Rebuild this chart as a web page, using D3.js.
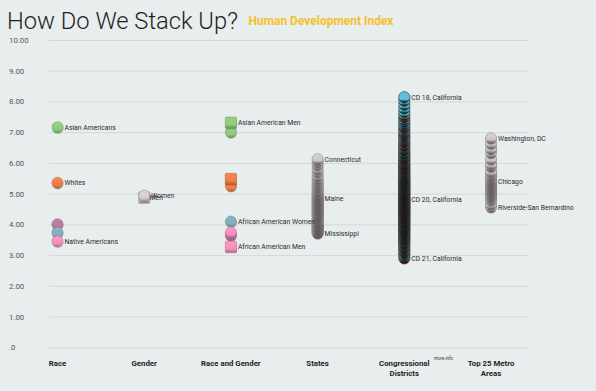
<!DOCTYPE html>
<html><head><meta charset="utf-8">
<script src="https://cdn.jsdelivr.net/npm/d3@7/dist/d3.min.js"></script>
<style>
html,body{margin:0;padding:0;background:#e8eded;}
svg{display:block;}
text{font-family:Roboto,"Noto Sans",sans-serif;}
</style></head>
<body>
<svg id="chart" width="596" height="391"></svg>
<script>
// ---------- DATA ----------
const categories = ["Race", "Gender", "Race and Gender", "States", "Congressional Districts", "Top 25 Metro Areas"];
const yTicks = [0, 1, 2, 3, 4, 5, 6, 7, 8, 9, 10];
const yTickLabels = [".0", "1.00", "2.00", "3.00", "4.00", "5.00", "6.00", "7.00", "8.00", "9.00", "10.00"];

const raceNames  = ["Asian Americans", "Whites", "Latinos", "African Americans", "Native Americans"];
const raceGroups = ["asian", "white", "latino", "african", "native"];
const raceValues = [7.16, 5.35, 4.00, 3.73, 3.45];
const raceLabeled = ["Asian Americans", "Whites", "Native Americans"];

const genderNames  = ["Men", "Women"];
const genderSex    = ["M", "F"];
const genderValues = [4.88, 4.93];

const rgNames  = ["Asian American Women", "White Women", "African American Women", "Latino Women", "Native American Women",
                  "Asian American Men", "White Men", "African American Men"];
const rgGroups = ["asian", "white", "african", "latino", "native", "asian", "white", "native"];
const rgSex    = ["F", "F", "F", "F", "F", "M", "M", "M"];
const rgValues = [7.00, 5.25, 4.09, 3.64, 3.74, 7.31, 5.48, 3.27];
const rgLabeled = ["Asian American Men", "African American Women", "African American Men"];

const stateValues = [6.12, 6.03, 5.93, 5.80, 5.70, 5.58, 5.49, 5.41, 5.33, 5.26,
                     5.19, 5.12, 5.07, 5.01, 4.97, 4.93, 4.88, 4.85, 4.81, 4.77,
                     4.74, 4.70, 4.66, 4.62, 4.59, 4.55, 4.51, 4.48, 4.44, 4.40,
                     4.37, 4.33, 4.30, 4.26, 4.21, 4.17, 4.13, 4.09, 4.05, 4.01,
                     3.98, 3.95, 3.92, 3.89, 3.86, 3.83, 3.80, 3.77, 3.74, 3.71];
const stateLabelNames  = ["Connecticut", "Maine", "Mississippi"];
const stateLabelValues = [6.12, 4.83, 3.71];

const cdValues = [8.14, 8.03, 7.90, 7.78, 7.66, 7.57, 7.49, 7.41, 7.34, 7.27,
                  7.21, 7.14, 7.07, 7.01, 6.94, 6.88, 6.83, 6.77, 6.70, 6.66,
                  6.60, 6.55, 6.49, 6.45, 6.40, 6.34, 6.30, 6.25, 6.21, 6.16,
                  6.12, 6.07, 6.03, 5.98, 5.95, 5.91, 5.87, 5.84, 5.80, 5.77,
                  5.73, 5.70, 5.66, 5.63, 5.60, 5.56, 5.53, 5.50, 5.47, 5.44,
                  5.41, 5.38, 5.35, 5.32, 5.29, 5.27, 5.24, 5.21, 5.18, 5.16,
                  5.13, 5.10, 5.08, 5.05, 5.02, 5.00, 4.97, 4.95, 4.92, 4.89,
                  4.87, 4.84, 4.82, 4.79, 4.77, 4.74, 4.72, 4.69, 4.67, 4.64,
                  4.62, 4.59, 4.57, 4.54, 4.52, 4.49, 4.47, 4.44, 4.41, 4.39,
                  4.36, 4.34, 4.31, 4.28, 4.26, 4.23, 4.20, 4.18, 4.15, 4.12,
                  4.10, 4.07, 4.04, 4.01, 3.98, 3.95, 3.92, 3.89, 3.86, 3.83,
                  3.80, 3.76, 3.73, 3.69, 3.66, 3.62, 3.58, 3.54, 3.50, 3.46,
                  3.41, 3.37, 3.32, 3.27, 3.22, 3.16, 3.10, 3.04, 2.97, 2.90];
const cdParty = ("DDDDDDRDDD" + "DRDDRDDDRD" + "DRDDRDRDDR" + "RDDRDRDDRD" + "DRDRDDRDRD" +
                 "RDRDDRDRDD" + "DRDDRDRDRD" + "RDRDRDDRDR" + "DRDRDRDDRD" + "RDDRDRDRDD" +
                 "DRDRDDRDRD" + "DRDRDDRDRD" + "DRDDRDRDDR").split("");
const cdLabelNames  = ["CD 18, California", "CD 20, California", "CD 21, California"];
const cdLabelValues = [8.14, 4.82, 2.90];

const metroValues = [6.80, 6.63, 6.46, 6.33, 6.12, 5.96, 5.88, 5.72, 5.63, 5.56,
                     5.49, 5.43, 5.38, 5.33, 5.28, 5.22, 5.17, 5.12, 5.07, 5.01,
                     4.95, 4.88, 4.79, 4.66, 4.56];
const metroLabelNames  = ["Washington, DC", "Chicago", "Riverside-San Bernardino"];
const metroLabelValues = [6.80, 5.40, 4.56];

// ---------- STYLE ----------
const groupColor = {asian: "#8ec97c", white: "#f07e48", latino: "#b9789c", african: "#7fb0ba", native: "#f38fbb", gray: "#d3cdcd"};
const partyColor = {D: "#5cc3d8", R: "#d8472d"};

// ---------- CHART ----------
const svg = d3.select("#chart");
const defs = svg.append("defs");
const y = d3.scaleLinear().domain([0, 10]).range([347.3, 40]);
const x = d3.scalePoint().domain(categories).range([57.5, 491]);
const R = 5.6;

let gradN = 0;
function grad(stops) {
  const id = "g" + (gradN++);
  const lg = defs.append("linearGradient").attr("id", id).attr("x1", 0).attr("y1", 0).attr("x2", 0).attr("y2", 1);
  stops.forEach(s => lg.append("stop").attr("offset", s[0]).attr("stop-color", s[1]));
  return "url(#" + id + ")";
}
const soft = c => grad([[0, d3.color(c).brighter(0.15)], [0.7, c], [1, d3.color(c).darker(0.9)]]);
const fillGroup = {};
Object.keys(groupColor).forEach(k => fillGroup[k] = soft(groupColor[k]));
const grayDeep = grad([[0, "#dcd6d6"], [0.62, "#cbc4c4"], [0.88, "#7a7272"], [1, "#4a4343"]]);
const partyFill = {};
Object.keys(partyColor).forEach(k => partyFill[k] = grad(
  [[0, partyColor[k]], [0.7, partyColor[k]], [0.86, d3.color(partyColor[k]).darker(2.6)], [1, "#080808"]]));

// title
const title = svg.append("text").attr("x", 7).attr("y", 29)
  .attr("font-size", 27).attr("font-weight", 300).attr("fill", "#1e1e1e")
  .text("How Do We Stack Up?");
const tw = title.node().getComputedTextLength();
title.attr("font-size", 27 * 231 / tw);
const sub = svg.append("text").attr("x", 248.5).attr("y", 24.5)
  .attr("font-size", 11).attr("font-weight", 700).attr("fill", "#f6c02c")
  .text("Human Development Index");
const sw = sub.node().getComputedTextLength();
sub.attr("font-size", 11 * 145 / sw);

// grid + y axis
const yAxis = d3.axisLeft(y).tickValues(yTicks).tickSize(-480)
  .tickFormat((d, i) => yTickLabels[i]);
const gy = svg.append("g").attr("transform", "translate(49,0)").call(yAxis);
gy.select(".domain").remove();
gy.selectAll(".tick line").attr("stroke", "#d3d9d9").attr("stroke-width", 1);
gy.selectAll(".tick text").attr("x", -40).attr("text-anchor", "start")
  .attr("fill", "#555").attr("font-size", 7.8);

// x axis labels
const gx = svg.append("g");
categories.forEach(c => {
  const words = c === "Congressional Districts" ? ["Congressional", "Districts"]
              : c === "Top 25 Metro Areas" ? ["Top 25 Metro", "Areas"] : [c];
  const t = gx.append("text").attr("x", x(c)).attr("y", 366)
    .attr("text-anchor", "middle").attr("font-size", 7.8).attr("font-weight", 700).attr("fill", "#1e1e1e");
  words.forEach((w, i) => t.append("tspan").attr("x", x(c)).attr("dy", i ? 9.5 : 0).text(w));
});
svg.append("text").attr("x", 434).attr("y", 359.5).attr("font-size", 4.6).attr("font-style", "italic")
  .attr("fill", "#333").text("more info");

const marks = svg.append("g");
function circle(cx, v, fill, stroke) {
  const g = marks.append("g");
  g.append("circle").attr("cx", cx + 0.3).attr("cy", y(v) + 0.9).attr("r", R).attr("fill", "rgba(40,40,40,0.3)");
  g.append("circle").attr("cx", cx).attr("cy", y(v)).attr("r", R).attr("fill", fill)
    .attr("stroke", stroke).attr("stroke-width", 0.5);
}
function square(cx, v, fill, stroke) {
  const g = marks.append("g");
  g.append("rect").attr("x", cx - R + 0.3).attr("y", y(v) - R + 0.9).attr("width", 2 * R).attr("height", 2 * R)
    .attr("rx", 1).attr("fill", "rgba(40,40,40,0.3)");
  g.append("rect").attr("x", cx - R).attr("y", y(v) - R).attr("width", 2 * R).attr("height", 2 * R)
    .attr("rx", 1).attr("fill", fill).attr("stroke", stroke).attr("stroke-width", 0.5);
}
function label(cx, v, txt) {
  svg.append("text").attr("x", cx + 7).attr("y", y(v)).attr("dy", "0.35em")
    .attr("font-size", 6.8).attr("fill", "#2a2a2a").text(txt);
}
const edge = k => d3.color(groupColor[k]).darker(0.7);

// Race
raceValues.forEach((v, i) => circle(x("Race"), v, fillGroup[raceGroups[i]], edge(raceGroups[i])));
raceNames.forEach((n, i) => { if (raceLabeled.includes(n)) label(x("Race"), raceValues[i], n); });

// Gender
genderValues.forEach((v, i) => genderSex[i] === "M"
  ? square(x("Gender"), v, fillGroup.gray, "#8a8282") : circle(x("Gender"), v, fillGroup.gray, "#8a8282"));
genderNames.forEach((n, i) => label(x("Gender") - (i ? 0 : 1.5), genderValues[i], n));

// Race and Gender
rgValues.forEach((v, i) => rgSex[i] === "M"
  ? square(x("Race and Gender"), v, fillGroup[rgGroups[i]], edge(rgGroups[i]))
  : circle(x("Race and Gender"), v, fillGroup[rgGroups[i]], edge(rgGroups[i])));
rgNames.forEach((n, i) => { if (rgLabeled.includes(n)) label(x("Race and Gender"), rgValues[i], n); });

// States (low drawn first, high on top)
stateValues.map((v, i) => i).sort((a, b) => stateValues[a] - stateValues[b])
  .forEach(i => circle(x("States"), stateValues[i], grayDeep, "#857d7d"));
stateLabelNames.forEach((n, i) => label(x("States"), stateLabelValues[i], n));

// Congressional districts
cdValues.map((v, i) => i).sort((a, b) => cdValues[a] - cdValues[b])
  .forEach(i => circle(x("Congressional Districts"), cdValues[i], partyFill[cdParty[i] || "D"], "#1c1c1c"));
cdLabelNames.forEach((n, i) => label(x("Congressional Districts"), cdLabelValues[i], n));

// Metro areas
metroValues.map((v, i) => i).sort((a, b) => metroValues[a] - metroValues[b])
  .forEach(i => circle(x("Top 25 Metro Areas"), metroValues[i], grayDeep, "#857d7d"));
metroLabelNames.forEach((n, i) => label(x("Top 25 Metro Areas"), metroLabelValues[i], n));
</script>
</body></html>
